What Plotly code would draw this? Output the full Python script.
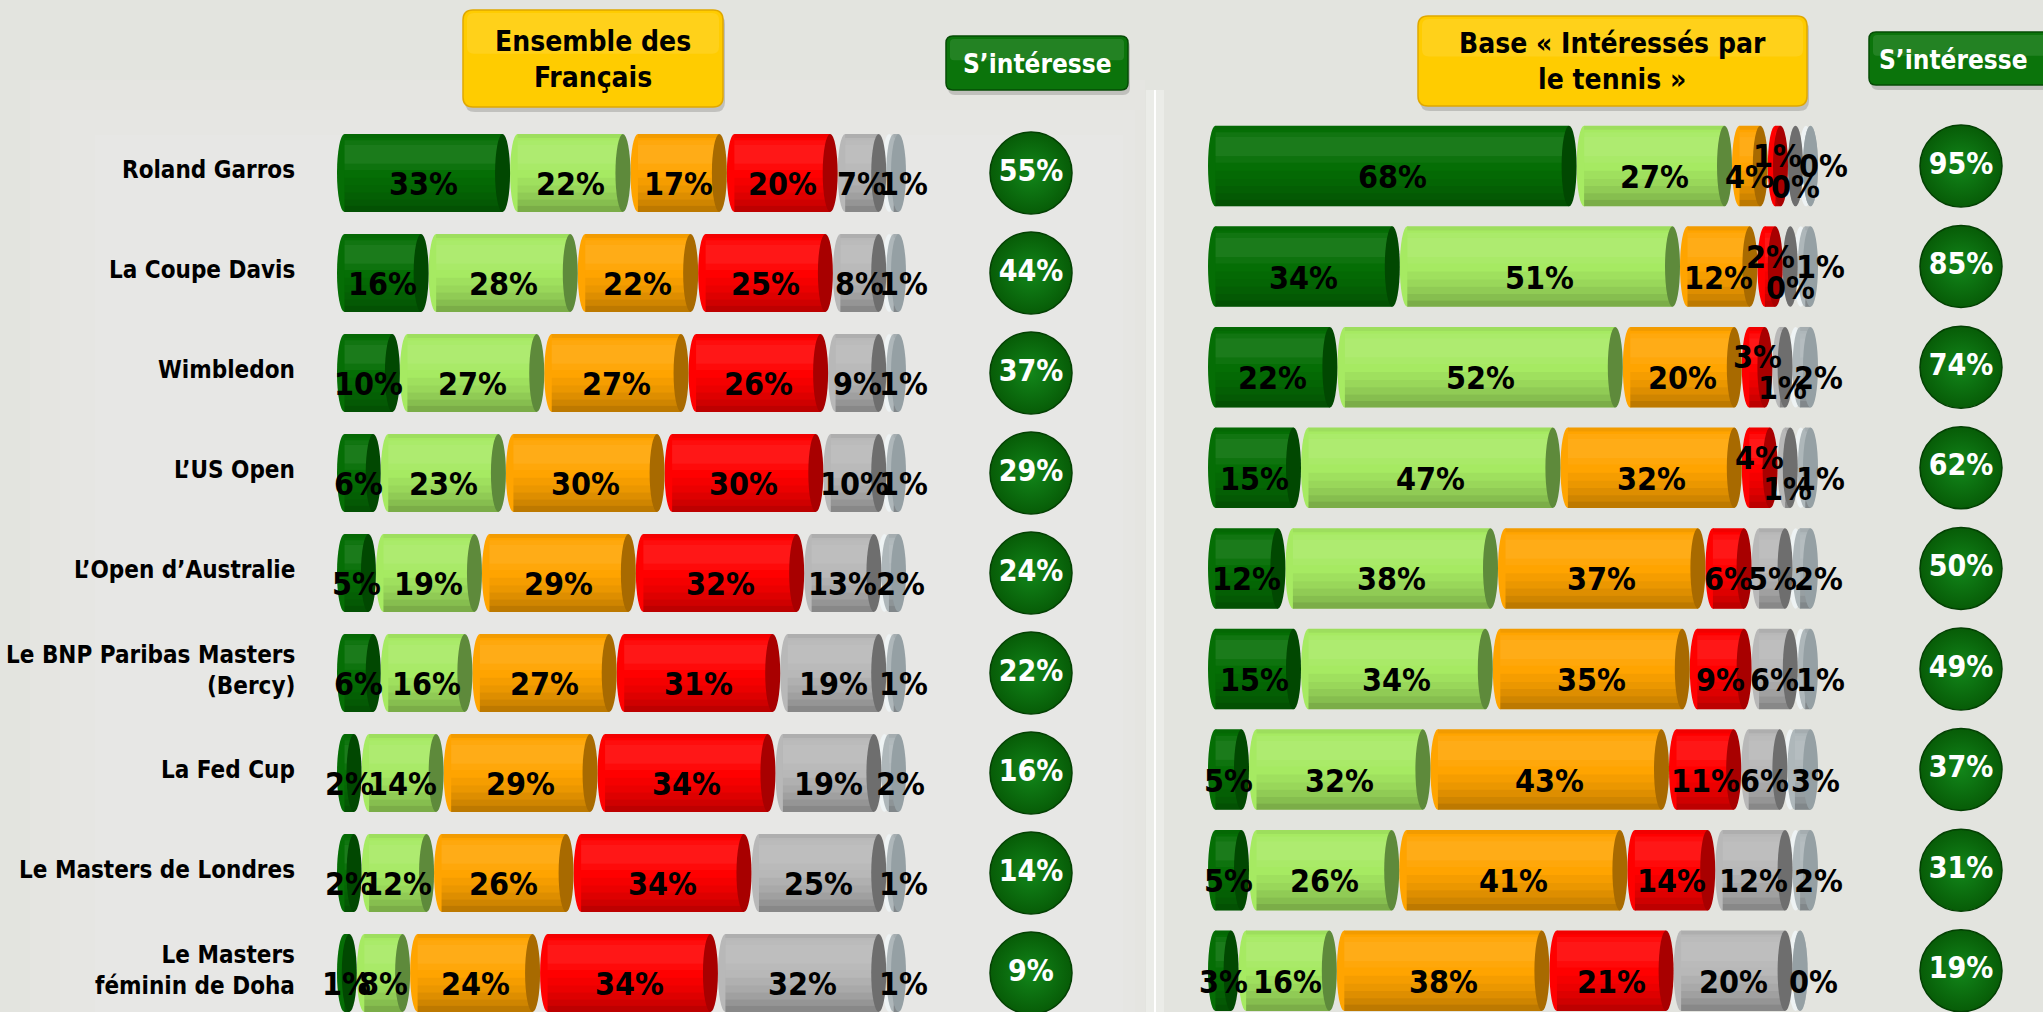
import plotly.graph_objects as go

W, H = 2043, 1012
FONT = "DejaVu Sans Condensed, Liberation Sans Narrow, DejaVu Sans, sans-serif"

# ---------------- data ----------------
categories = ["Roland Garros", "La Coupe Davis", "Wimbledon", "L’US Open",
              "L’Open d’Australie", "Le BNP Paribas Masters<br>(Bercy)",
              "La Fed Cup", "Le Masters de Londres", "Le Masters<br>féminin de Doha"]
series_names = ["Très intéressé", "Assez intéressé", "Peu intéressé",
                "Pas du tout intéressé", "Ne connaît pas", "NSP"]

left_s1 = [33, 16, 10, 6, 5, 6, 2, 2, 1]
left_s2 = [22, 28, 27, 23, 19, 16, 14, 12, 8]
left_s3 = [17, 22, 27, 30, 29, 27, 29, 26, 24]
left_s4 = [20, 25, 26, 30, 32, 31, 34, 34, 34]
left_s5 = [7, 8, 9, 10, 13, 19, 19, 25, 32]
left_s6 = [1, 1, 1, 1, 2, 1, 2, 1, 1]
left_interest = [55, 44, 37, 29, 24, 22, 16, 14, 9]

right_s1 = [68, 34, 22, 15, 12, 15, 5, 5, 3]
right_s2 = [27, 51, 52, 47, 38, 34, 32, 26, 16]
right_s3 = [4, 12, 20, 32, 37, 35, 43, 41, 38]
right_s4 = [1, 2, 3, 4, 6, 9, 11, 14, 21]
right_s5 = [0, 0, 1, 1, 5, 6, 6, 12, 20]
right_s6 = [0, 1, 2, 1, 2, 1, 3, 2, 0]
right_interest = [95, 85, 74, 62, 50, 49, 37, 31, 19]

left_title = "Ensemble des<br>Français"
right_title = "Base « Intéressés par<br>le tennis »"
interest_title = "S’intéresse"

left_values = [left_s1, left_s2, left_s3, left_s4, left_s5, left_s6]
right_values = [right_s1, right_s2, right_s3, right_s4, right_s5, right_s6]

# ---------------- style ----------------
BG = "#E3E4DF"
body_colors = ["#056E05", "#A6EA62", "#FFA400", "#FF0000", "#B8B8B8", "#AEB7BA"]
cap_colors = ["#014801", "#5E8A3B", "#A86A00", "#A80000", "#6E6E6E", "#95A0A4"]
strips = [(0.00, 0.05, "rgba(0,0,0,0.05)"), (0.08, 0.14, "rgba(255,255,255,0.05)"),
          (0.14, 0.38, "rgba(255,255,255,0.09)"), (0.38, 0.46, "rgba(255,255,255,0.04)"),
          (0.56, 0.66, "rgba(0,0,0,0.04)"), (0.66, 0.75, "rgba(0,0,0,0.08)"),
          (0.75, 0.84, "rgba(0,0,0,0.13)"), (0.84, 0.92, "rgba(0,0,0,0.19)"),
          (0.92, 1.00, "rgba(0,0,0,0.26)")]
DISC_PX = 15

fig = go.Figure()
shapes = []
annotations = []


def X(px):
    return px / W


def Y(py):
    return 1 - py / H


def rrect(x0, y0, x1, y1, r):
    return (f"M {X(x0+r)},{Y(y0)} L {X(x1-r)},{Y(y0)} Q {X(x1)},{Y(y0)} {X(x1)},{Y(y0+r)} "
            f"L {X(x1)},{Y(y1-r)} Q {X(x1)},{Y(y1)} {X(x1-r)},{Y(y1)} L {X(x0+r)},{Y(y1)} "
            f"Q {X(x0)},{Y(y1)} {X(x0)},{Y(y1-r)} L {X(x0)},{Y(y0+r)} Q {X(x0)},{Y(y0)} {X(x0+r)},{Y(y0)} Z")


# background glow + separator
for (x0, y0, op) in [(30, 80, 0.07), (60, 110, 0.07), (95, 135, 0.07)]:
    shapes.append(dict(type="rect", xref="paper", yref="paper", x0=X(x0), x1=X(1145 - (x0 - 30) / 3),
                       y0=0, y1=Y(y0), fillcolor=f"rgba(255,255,255,{op})", line=dict(width=0), layer="below"))
shapes.append(dict(type="line", xref="paper", yref="paper", x0=X(1155), x1=X(1155), y0=0, y1=Y(90),
                   line=dict(color="rgba(255,255,255,0.30)", width=18), layer="below"))
shapes.append(dict(type="line", xref="paper", yref="paper", x0=X(1155), x1=X(1155), y0=0, y1=Y(90),
                   line=dict(color="#FFFFFF", width=2), layer="below"))

panels = [
    dict(values=left_values, interest=left_interest, xa="x", ya="y", xc="x3",
         x0=337, x1=945, ppu=4.79, row0=173, rowpx=100.0, barw=0.78, cpx=1031,
         last_shift=1.5, labels=True, right=False),
    dict(values=right_values, interest=right_interest, xa="x2", ya="y2", xc="x4",
         x0=1208, x1=1868, ppu=5.2, row0=166, rowpx=100.6, barw=0.80, cpx=1961,
         last_shift=2.5, labels=False, right=True),
]

layout_axes = {}
rows = list(range(len(categories)))

for p in panels:
    g = DISC_PX / p["ppu"]
    bw = p["barw"]
    xa, ya = p["xa"], p["ya"]
    cum = [0.0] * len(rows)
    red_vals = p["values"][3]
    for j, vals in enumerate(p["values"]):
        starts = [cum[r] + j * g for r in rows]
        bases = [s + g / 2 for s in starts]
        fig.add_trace(go.Bar(orientation="h", y=rows, x=vals, base=bases, width=bw, offset=-bw / 2,
                             marker=dict(color=body_colors[j], line=dict(width=0)),
                             name=series_names[j], xaxis=xa, yaxis=ya, showlegend=False,
                             hovertemplate="%{x}%<extra>" + series_names[j] + "</extra>"))
        for (t0, t1, col) in strips:
            fig.add_trace(go.Bar(orientation="h", y=rows, x=vals, base=bases, width=(t1 - t0) * bw,
                                 offset=-bw / 2 + t0 * bw, marker=dict(color=col, line=dict(width=0)),
                                 xaxis=xa, yaxis=ya, showlegend=False, hoverinfo="skip"))
        for r in rows:
            a = starts[r]
            v = vals[r]
            b = a + v + g
            y0, y1 = r - bw / 2, r + bw / 2
            if j == len(p["values"]) - 1:
                shapes.append(dict(type="circle", xref=xa, yref=ya, x0=a - 0.3 * g, x1=a + 0.7 * g,
                                   y0=y0, y1=y1, fillcolor="#EEF3F4", line=dict(width=0), layer="below"))
            shapes.append(dict(type="circle", xref=xa, yref=ya, x0=a, x1=a + g, y0=y0, y1=y1,
                               fillcolor=body_colors[j], line=dict(width=0), layer="below"))
            shapes.append(dict(type="circle", xref=xa, yref=ya, x0=b - g, x1=b, y0=y0, y1=y1,
                               fillcolor=cap_colors[j], line=dict(width=0), layer="above"))
            # label
            lx = a + (v + g) / 2
            dy = 0.11
            if j == len(p["values"]) - 1:
                lx += p["last_shift"]
            if p["right"] and red_vals[r] < 5:
                if j == 3:
                    dy = -0.10
                elif j == 4:
                    dy = 0.21
                elif j == 5 and red_vals[r] <= 2:
                    dy = 0.0
            annotations.append(dict(x=lx, y=r + dy, xref=xa, yref=ya, text=f"<b>{v}%</b>",
                                    showarrow=False, xanchor="center", yanchor="middle",
                                    font=dict(family=FONT, size=32, color="#000000")))
        for r in rows:
            cum[r] += vals[r]

    # interest circles
    fig.add_trace(go.Scatter(x=[interest_title] * len(rows), y=rows, mode="markers+text",
                             text=[f"<b>{v}%</b>" for v in p["interest"]],
                             textposition="middle center",
                             textfont=dict(family=FONT, size=30, color="#FFFFFF"),
                             marker=dict(size=82, color="#075C07",
                                         gradient=dict(type="radial", color="#12861A"),
                                         line=dict(color="#034003", width=1.5)),
                             xaxis=p["xc"], yaxis=ya, showlegend=False, cliponaxis=False,
                             hovertemplate="%{text}<extra></extra>"))

    ax_key = "xaxis" if xa == "x" else "xaxis" + xa[1:]
    ay_key = "yaxis" if ya == "y" else "yaxis" + ya[1:]
    axc_key = "xaxis" + p["xc"][1:]
    layout_axes[ax_key] = dict(domain=[X(p["x0"]), X(p["x1"])],
                               range=[0, (p["x1"] - p["x0"]) / p["ppu"]],
                               anchor=ya, visible=False, fixedrange=True)
    layout_axes[ay_key] = dict(domain=[0, 1], range=[(H - p["row0"]) / p["rowpx"], -p["row0"] / p["rowpx"]],
                               anchor=xa, visible=False, fixedrange=True)
    layout_axes[axc_key] = dict(domain=[X(p["cpx"] - 45), X(p["cpx"] + 45)], type="category",
                                range=[-0.5, 0.5], anchor=ya, visible=False, fixedrange=True)

    if p["labels"]:
        for r in rows:
            annotations.append(dict(x=X(297), y=r - 0.03, xref="paper", yref=ya,
                                    text=f"<b>{categories[r]}</b>", showarrow=False,
                                    xanchor="right", yanchor="middle", align="right",
                                    font=dict(family=FONT, size=24, color="#000000")))


# header boxes
def header(x0, y0, x1, y1, fill, edge, text, color, size, r=10, tx=None):
    shapes.append(dict(type="path", xref="paper", yref="paper", path=rrect(x0 + 2, y0 + 4, x1 + 2, y1 + 5, r),
                       fillcolor="rgba(0,0,0,0.16)", line=dict(width=0), layer="above"))
    shapes.append(dict(type="path", xref="paper", yref="paper", path=rrect(x0, y0, x1, y1, r),
                       fillcolor=fill, line=dict(color=edge, width=1.5), layer="above"))
    shapes.append(dict(type="path", xref="paper", yref="paper",
                       path=rrect(x0 + 4, y0 + 3, x1 - 4, y0 + (y1 - y0) * 0.45, r - 3),
                       fillcolor="rgba(255,255,255,0.10)", line=dict(width=0), layer="above"))
    cx = (x0 + x1) / 2 if tx is None else tx
    annotations.append(dict(x=X(cx), y=Y((y0 + y1) / 2 + 1), xref="paper", yref="paper",
                            text=f"<b>{text}</b>", showarrow=False, xanchor="center", yanchor="middle",
                            align="center", font=dict(family=FONT, size=size, color=color)))


header(463, 10, 723, 107, "#FFCC00", "#E0A800", left_title, "#000000", 28)
header(1418, 16, 1807, 106, "#FFCC00", "#E0A800", right_title, "#000000", 28)
header(946, 36, 1128, 90, "#0B740B", "#064C06", interest_title, "#FFFFFF", 26, r=7)
header(1869, 32, 2070, 85, "#0B740B", "#064C06", interest_title, "#FFFFFF", 26, r=7, tx=1953)

fig.update_layout(width=W, height=H, margin=dict(l=0, r=0, t=0, b=0),
                  paper_bgcolor=BG, plot_bgcolor="rgba(0,0,0,0)",
                  barmode="overlay", showlegend=False, shapes=shapes, annotations=annotations,
                  font=dict(family=FONT), **layout_axes)

fig.write_html("out.html", config={"displayModeBar": False},
               post_script="document.body.style.margin='0';document.body.style.background='" + BG + "';"
                           "document.body.style.overflow='hidden';")
